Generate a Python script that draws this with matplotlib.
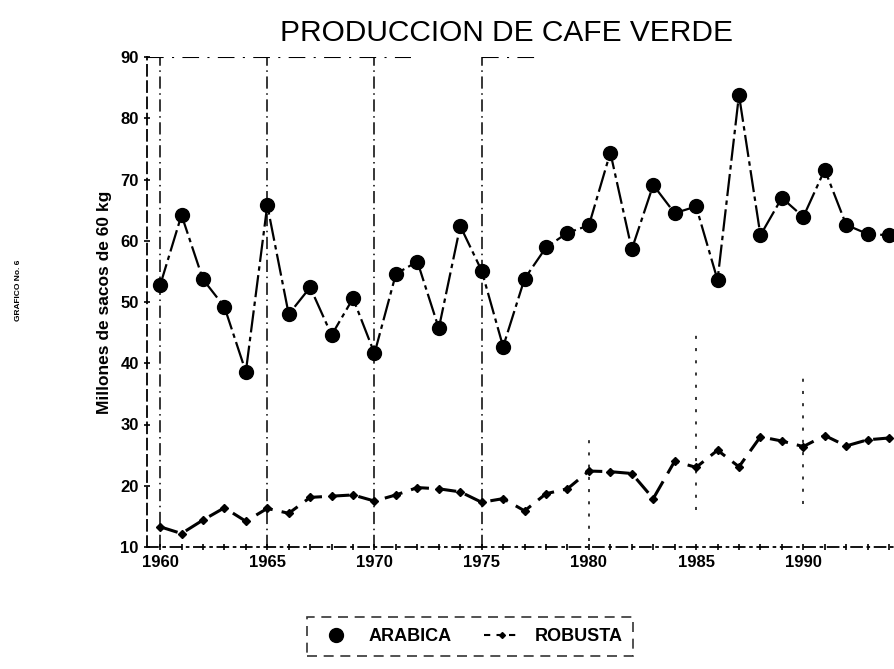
#!/usr/bin/env python3
"""Produccion de cafe verde: Arabica vs Robusta, 1960-1994 (scanned chart)."""

import matplotlib
matplotlib.use("Agg")
import matplotlib.pyplot as plt
from matplotlib.lines import Line2D

FONT = "Liberation Sans"

# millones de sacos de 60 kg
years = list(range(1960, 1995))
arabica = [52.7, 64.2, 53.7, 49.2, 38.6, 65.8, 48.0, 52.4, 44.6, 50.6,
           41.6, 54.6, 56.6, 45.7, 62.4, 55.1, 42.7, 53.8, 58.9, 61.3,
           62.5, 74.4, 58.6, 69.1, 64.5, 65.6, 53.6, 83.8, 60.9, 67.0,
           63.9, 71.6, 62.6, 61.1, 60.9]
robusta = [13.3, 12.2, 14.4, 16.4, 14.2, 16.3, 15.5, 18.1, 18.3, 18.5,
           17.5, 18.5, 19.7, 19.5, 19.0, 17.3, 17.9, 15.9, 18.7, 19.5,
           22.4, 22.3, 22.0, 17.9, 24.0, 23.0, 25.8, 23.1, 28.0, 27.3,
           26.4, 28.2, 26.5, 27.5, 27.8]

# vertical reference lines (full height) and the short drop lines on the right
full_vlines = [1960, 1965, 1970, 1975]
short_vlines = [1980, 1985, 1990]
short_lo = [11, 16, 17]
short_hi = [29, 45, 38]
# broken top frame at 90
top_x0 = [1959.4, 1975.0]
top_x1 = [1971.7, 1977.8]

xticks = [1960, 1965, 1970, 1975, 1980, 1985, 1990]
yticks = [10, 20, 30, 40, 50, 60, 70, 80, 90]


def main():
    fig = plt.figure(figsize=(8.94, 6.69), dpi=100)
    ax = fig.add_axes([147 / 894, (669 - 547) / 669, (894 - 147) / 894, (547 - 57) / 669])
    ax.set_xlim(1959.39, 1994.23)
    ax.set_ylim(10, 90)

    for s in ("top", "right"):
        ax.spines[s].set_visible(False)
    ax.spines["left"].set_linestyle((0, (6, 3)))
    ax.spines["bottom"].set_linestyle((0, (6, 3, 1, 3)))
    for s in ("left", "bottom"):
        ax.spines[s].set_linewidth(1.3)

    ax.vlines(full_vlines, 10, 90, colors="black", linestyles=(0, (8, 3, 1, 3)), lw=1.1)
    ax.vlines(short_vlines, short_lo, short_hi, colors="black", linestyles=(0, (2, 6)), lw=1.1)
    ax.hlines([90] * len(top_x0), top_x0, top_x1, colors="black",
              linestyles=(0, (8, 4, 1, 4)), lw=1.5)

    ax.plot(years, arabica, color="black", lw=1.6, ls=(0, (10, 2, 2, 2)),
            marker="o", ms=10, zorder=3)
    ax.plot(years, robusta, color="black", lw=2.2, ls=(0, (6, 3)),
            marker="D", ms=4, zorder=3)

    ax.set_xticks(xticks)
    ax.set_xticks(years, minor=True)
    ax.set_yticks(yticks)
    ax.tick_params(axis="both", which="both", direction="inout", length=5, width=1.2)
    for lab in ax.get_xticklabels() + ax.get_yticklabels():
        lab.set_fontfamily(FONT)
        lab.set_fontweight("bold")
        lab.set_fontsize(12)

    ax.set_ylabel("Millones de sacos de 60 kg", fontfamily=FONT, fontweight="bold",
                  fontsize=12.5, labelpad=6)
    fig.text(507 / 894, 1 - 33 / 669, "PRODUCCION DE CAFE VERDE", ha="center", va="center",
             fontfamily=FONT, fontsize=21.5)
    fig.text(18 / 894, 1 - 290 / 669, "GRAFICO No. 6", rotation=90, ha="center", va="center",
             fontfamily=FONT, fontweight="bold", fontsize=6)

    handles = [
        Line2D([], [], color="black", ls="none", marker="o", ms=10),
        Line2D([], [], color="black", lw=1.5, ls=(0, (3, 3)), marker="D", ms=3),
    ]
    leg = fig.legend(handles, ["ARABICA", "ROBUSTA"], loc="upper left",
                     bbox_to_anchor=(307 / 894, 1 - 617 / 669), ncol=2,
                     prop={"family": FONT, "weight": "bold", "size": 13},
                     fancybox=False, edgecolor="black", borderpad=0.6,
                     handlelength=2.0, columnspacing=1.8, borderaxespad=0)
    frame = leg.get_frame()
    frame.set_linestyle((0, (6, 4)))
    frame.set_linewidth(1.2)

    fig.savefig("out.png", dpi=100, facecolor="white")


if __name__ == "__main__":
    main()
